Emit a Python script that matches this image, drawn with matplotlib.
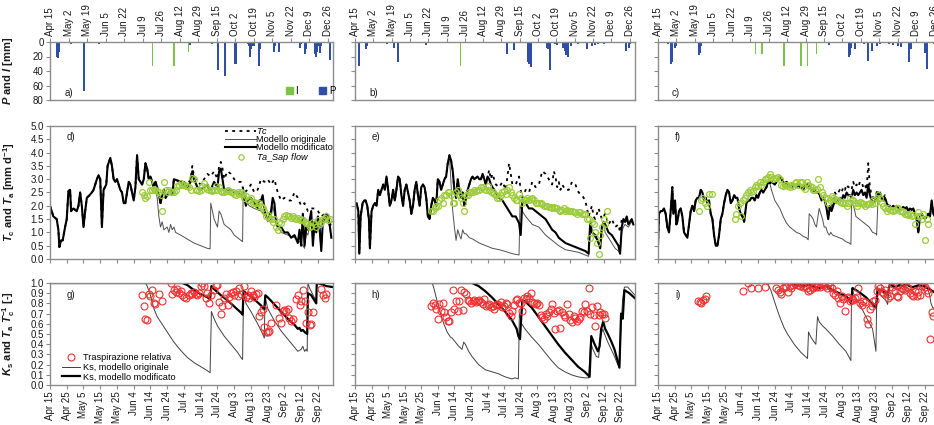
import numpy as np
import matplotlib
matplotlib.use('Agg')
import matplotlib.pyplot as plt
from matplotlib.lines import Line2D
from matplotlib.patches import Patch

plt.rcParams['font.family'] = ['Liberation Sans', 'DejaVu Sans']
plt.rcParams['mathtext.fontset'] = 'custom'
plt.rcParams['mathtext.rm'] = 'Liberation Sans'
plt.rcParams['mathtext.it'] = 'Liberation Sans:italic'
plt.rcParams['mathtext.bf'] = 'Liberation Sans:bold'
plt.rcParams['mathtext.bfit'] = 'Liberation Sans:bold:italic'

# ---------------- tick labels (day 0 = Apr 15) ----------------
top_tick_days = [0, 17, 34, 51, 68, 85, 102, 119, 136, 153, 170, 187, 204, 221, 238, 255]
top_tick_labels = ['Apr 15', 'May 2', 'May 19', 'Jun 5', 'Jun 22', 'Jul 9', 'Jul 26', 'Aug 12',
                   'Aug 29', 'Sep 15', 'Oct 2', 'Oct 19', 'Nov 5', 'Nov 22', 'Dec 9', 'Dec 26']
bot_tick_days = [0, 10, 20, 30, 40, 50, 60, 70, 80, 90, 100, 110, 120, 130, 140, 150, 160]
bot_tick_labels = ['Apr 15', 'Apr 25', 'May 5', 'May 15', 'May 25', 'Jun 4', 'Jun 14', 'Jun 24',
                   'Jul 4', 'Jul 14', 'Jul 24', 'Aug 3', 'Aug 13', 'Aug 23', 'Sep 2', 'Sep 12', 'Sep 22']

# ---------------- rainfall (P) and irrigation (I), mm ----------------
a_P_days = [6, 7, 8, 19, 31, 45, 129, 149, 154, 161, 163, 170, 171, 182, 183, 184, 185, 186, 187, 192, 193,
            206, 207, 210, 230, 231, 234, 235, 243, 244, 245, 246, 248, 249, 257]
a_P = [20, 22, 14, 3, 68, 3, 4, 3, 38, 47, 2, 30, 31, 3, 6, 20, 10, 6, 5, 33, 10,
       14, 5, 14, 8, 3, 17, 10, 17, 20, 14, 5, 15, 6, 25]
a_I_days = [94, 114, 127]
a_I = [33, 33, 14]

b_P_days = [4, 10, 11, 30, 36, 40, 66, 141, 148, 161, 162, 163, 178, 179, 181, 186, 188, 193, 195, 196, 198,
            201, 207, 209, 215, 220, 223, 226, 231, 244, 252, 254, 255]
b_P = [33, 9, 6, 3, 8, 27, 4, 17, 11, 28, 30, 34, 8, 10, 38, 3, 4, 8, 12, 18, 21,
       6, 3, 2, 10, 5, 4, 3, 3, 2, 12, 8, 3]
b_I_days = [98]
b_I = [33]

c_P_days = [9, 12, 13, 16, 17, 38, 39, 40, 158, 163, 176, 177, 178, 182, 190, 194, 197, 202, 205,
            213, 217, 221, 224, 231, 233, 246, 248, 254]
c_P = [3, 30, 28, 8, 5, 18, 15, 5, 4, 2, 21, 18, 8, 10, 3, 26, 12, 5, 3,
       3, 4, 5, 7, 27, 10, 15, 37, 3]
c_I_days = [90, 96, 116, 132, 138, 146]
c_I = [16, 16, 33, 33, 33, 16]

# ---------------- panel d: Tc / Ta (mm d-1) ----------------
d_common_x = [0, 2, 4, 5, 5.6, 6.6, 7.6, 9, 10, 11, 12, 12.6, 14, 16, 17, 18, 19, 20, 21, 22, 23.6, 25, 26, 28,
              29, 30, 31, 32, 33.6, 34.4, 36, 37, 38, 39, 40, 41, 42, 43, 44, 45, 46, 47, 48, 49, 50, 51, 52,
              53, 54, 55, 56, 57, 58, 59, 60, 62, 63, 64, 65, 66, 67, 68, 69, 70, 72, 73, 74, 76, 78]
d_common_y = [2.0, 1.6, 1.5, 1.1, 0.45, 0.7, 0.7, 1.2, 1.5, 2.55, 2.6, 1.8, 1.9, 1.8, 2.0, 2.5, 2.0, 1.2, 1.8, 2.3,
              2.4, 2.5, 2.6, 3.0, 3.15, 3.0, 1.2, 2.6, 2.8, 3.5, 3.8, 3.5, 3.0, 2.9, 3.0, 2.8, 2.6, 2.5, 2.1, 2.1,
              2.5, 2.9, 2.8, 2.5, 2.2, 2.7, 3.9, 3.0, 2.9, 2.8, 3.0, 3.6, 3.4, 3.0, 3.1, 2.7, 2.9, 2.7, 2.4, 2.1,
              2.4, 2.6, 2.3, 2.4, 2.6, 2.4, 3.0, 2.95, 2.9]
d_tc_tail_x = [80, 82, 84, 85, 86, 88, 90, 92, 94, 96, 98, 100, 101, 102, 103, 104, 106, 108, 110, 112, 114, 116,
               118, 120, 122, 124, 126, 128, 130, 132, 134, 136, 138, 140, 142, 144, 146, 148, 150, 152, 154, 156,
               158, 160, 162, 164, 166, 168]
d_tc_tail_y = [2.9, 2.8, 3.0, 3.5, 3.1, 2.9, 2.8, 3.0, 3.2, 3.1, 3.3, 3.0, 3.5, 3.65, 3.4, 3.0, 3.3, 3.2, 3.0, 2.9,
               2.9, 2.5, 2.6, 2.8, 2.5, 2.6, 3.0, 2.9, 3.0, 2.8, 3.0, 2.5, 2.2, 2.3, 2.2, 2.2, 2.5, 2.3, 2.0, 2.1,
               1.8, 1.9, 1.9, 1.8, 1.6, 1.7, 1.6, 1.2]
d_mod_tail_x = [80, 82, 84, 85, 86, 88, 90, 92, 94, 95, 96, 98, 100, 101, 102, 103, 104, 106, 108, 110, 112, 114,
                116, 117, 118, 120, 122, 124, 125, 126, 127, 128, 129, 130, 132, 133, 134, 135, 136, 138, 140, 142,
                144, 146, 148, 149, 150, 151, 152, 153, 154, 156, 157, 158, 159, 160, 161, 162, 163, 164, 165,
                166, 167, 168]
d_mod_tail_y = [2.8, 2.7, 2.9, 3.3, 3.0, 2.7, 2.6, 2.7, 2.8, 2.6, 2.6, 2.9, 2.7, 3.3, 3.4, 3.0, 2.6, 2.6, 2.6, 2.5,
                2.5, 2.4, 2.3, 2.0, 2.2, 2.3, 2.1, 1.9, 2.2, 2.2, 2.4, 1.9, 1.6, 1.5, 1.8, 2.3, 2.1, 1.4, 1.2, 1.2,
                1.0, 1.0, 0.8, 0.9, 0.6, 1.1, 0.5, 1.7, 0.5, 1.2, 1.1, 1.8, 0.5, 1.4, 1.0, 1.6, 1.2, 0.3, 1.5, 1.4,
                1.7, 1.6, 1.3, 0.8]
d_orig_split = 62
d_orig_tail_x = [63, 64, 65, 66, 67, 68, 70, 71, 72, 73, 74, 75, 78, 82, 86, 90, 94, 95.6, 96, 97, 98, 100, 101,
                 102, 104, 106, 108, 110, 112, 114, 115, 115.4, 117, 119, 122, 126, 128, 130, 132, 133, 135, 138,
                 142, 146, 150, 152, 153, 154, 156, 157, 158, 160, 162, 163, 165, 167, 168]
d_orig_tail_y = [2.6, 2.3, 1.6, 1.2, 1.4, 1.1, 1.2, 1.0, 1.3, 1.1, 1.2, 1.0, 0.9, 0.75, 0.6, 0.5, 0.4, 0.38, 2.1,
                 1.8, 1.5, 1.2, 1.8, 1.7, 1.3, 1.2, 1.1, 0.9, 0.8, 0.7, 0.65, 2.7, 2.2, 2.0, 1.9, 1.8, 1.7, 1.4,
                 1.5, 2.0, 1.4, 1.0, 0.9, 0.8, 0.6, 0.4, 1.0, 0.9, 1.6, 0.5, 1.3, 1.5, 0.3, 1.4, 1.6, 1.2, 0.8]
d_sap_start = 55
d_sap = [2.5, 2.4, 2.3, 2.35, 2.9, 2.6, 2.6, 2.65, 2.6, 2.55, 2.5, 2.4, 1.8, 2.9, 2.6, 2.5, 2.6, 2.5, 2.5, 2.5,
         2.6, 2.75, 2.8, 2.85, 2.8, 2.8, 2.75, 2.75, 2.7, 2.6, 3.05, 3.0, 2.6, 2.6, 2.55, 2.6, 2.75, 2.85, 2.7,
         2.65, 2.6, 2.6, 2.55, 2.6, 2.75, 2.6, 2.7, 2.55, 2.5, 2.5, 2.55, 2.6, 2.55, 2.5, 2.5, 2.45, 2.4, 2.5,
         2.45, 2.5, 2.45, 2.3, 2.35, 2.2, 2.2, 2.3, 2.1, 2.15, 2.1, 2.0, 2.1, 2.0, 1.9, 1.8, 1.6, 1.65, 1.55,
         1.5, 1.4, 1.5, 1.2, 1.1, 1.4, 1.35, 1.5, 1.6, 1.65, 1.6, 1.6, 1.55, 1.6, 1.55, 1.5, 1.55, 1.45, 1.5,
         1.45, 1.4, 1.35, 1.3, 1.2, 1.25, 1.4, 1.3, 1.2, 1.45, 1.3, 1.4, 1.5, 1.55, 1.6, 1.45, 1.5]

# ---------------- panel e ----------------
e_common_x = [0, 1, 2, 2.6, 3.4, 4.6, 5.6, 6.4, 7.4, 8.4, 9, 10, 11, 12, 13, 14, 15, 16, 17, 18, 19, 20, 21, 22,
              23, 24, 25, 26, 27, 28, 29, 30, 31, 32, 33, 34, 35, 36, 37, 38, 39, 40, 41, 42, 43, 44, 45, 46, 47,
              48, 49, 50, 51, 52, 53, 54, 55, 56, 57, 58, 59, 60, 61, 62, 63, 64, 65, 66, 67, 68, 69, 70, 71, 72,
              73, 74, 75, 76, 77, 78, 79]
e_common_y = [2.0, 2.1, 1.8, 0.2, 1.6, 2.1, 2.2, 2.2, 2.0, 1.5, 0.4, 1.8, 2.0, 2.1, 2.0, 2.6, 2.4, 2.6, 2.8, 2.6,
              3.1, 2.6, 2.0, 2.2, 2.6, 2.2, 2.6, 3.1, 3.0, 2.4, 2.0, 2.6, 2.8, 2.5, 2.2, 1.7, 2.0, 2.6, 2.9, 2.4,
              2.0, 2.7, 2.8, 2.7, 2.3, 1.6, 1.5, 2.0, 2.3, 2.2, 2.0, 3.0, 2.9, 2.6, 2.8, 3.0, 3.1, 3.6, 3.9, 3.7,
              3.3, 2.6, 2.3, 3.0, 2.6, 2.3, 2.5, 2.0, 2.3, 2.6, 2.8, 3.0, 3.1, 3.0, 3.05, 3.1, 3.0, 3.0, 3.2, 3.0,
              2.8]
e_tc_tail_x = [81, 82, 83, 85, 87, 89, 91, 93, 94, 95, 97, 99, 100, 101, 103, 105, 107, 109, 111, 113, 115, 117,
               119, 120, 121, 122, 123, 124, 125, 127, 129, 131, 133, 135, 137, 139, 141, 143, 144, 145, 147, 149,
               151, 153, 155, 157, 159, 160, 161, 163, 165, 168]
e_tc_tail_y = [3.35, 3.0, 3.2, 2.8, 2.7, 2.9, 2.6, 3.6, 3.2, 2.8, 2.8, 3.1, 2.6, 2.3, 2.6, 2.5, 2.9, 2.7, 2.8, 3.3,
               3.2, 3.0, 2.8, 3.3, 3.1, 2.7, 2.9, 2.6, 2.8, 2.6, 2.6, 2.9, 2.8, 2.5, 2.4, 2.2, 1.6, 2.0, 1.6, 1.5,
               1.9, 1.5, 1.7, 1.3, 1.5, 1.2, 1.3, 1.0, 1.5, 1.4, 1.5, 1.4]
e_mod_tail_x = [80, 81, 82, 83, 85, 87, 89, 91, 93, 95, 97, 99, 100, 101, 103, 105, 107, 109, 111, 113, 115, 117,
                119, 121, 123, 127, 131, 135, 139, 141, 142, 143, 145, 147, 148, 149, 150, 151, 153, 155, 157, 159,
                160, 161, 162, 163, 164, 165, 167, 168]
e_mod_tail_y = [3.1, 3.0, 2.8, 2.7, 2.5, 2.3, 2.2, 2.0, 1.8, 1.6, 1.6, 1.35, 0.9, 2.2, 2.1, 1.9, 1.9, 1.8, 1.7, 1.6,
                1.5, 1.3, 1.1, 1.0, 0.8, 0.6, 0.5, 0.4, 0.3, 0.2, 1.4, 1.0, 0.9, 0.6, 0.4, 1.2, 1.4, 1.3, 1.0, 0.9,
                0.7, 0.5, 0.2, 1.2, 1.5, 1.4, 1.6, 1.3, 1.5, 1.3]
e_orig_split = 57
e_orig_tail_x = [58, 59, 60, 61, 62, 63, 64, 65, 66, 67, 69, 71, 75, 79, 83, 87, 91, 95, 99, 99.6, 101, 103, 107,
                 111, 115, 119, 123, 127, 131, 135, 139, 141, 142, 143, 145, 147, 148, 149, 150, 151, 153, 155,
                 157, 159, 160, 161, 162, 163, 165, 167, 168]
e_orig_tail_y = [2.8, 1.8, 1.2, 0.7, 1.1, 0.9, 0.75, 1.1, 0.95, 0.95, 0.8, 0.75, 0.6, 0.5, 0.4, 0.35, 0.28, 0.2,
                 0.15, 2.0, 1.8, 1.6, 1.3, 1.2, 0.9, 0.7, 0.5, 0.35, 0.3, 0.25, 0.15, 0.1, 1.3, 1.0, 0.8, 0.7, 0.6,
                 1.2, 1.3, 1.0, 0.8, 0.6, 0.4, 0.3, 0.2, 1.0, 1.2, 1.3, 1.2, 1.4, 1.3]
e_sap_start = 46
e_sap = [1.8, 1.8, 1.9, 2.0, 2.0, 2.2, 2.3, 2.1, 2.4, 2.4, 2.5, 2.5, 2.4, 2.1, 2.1, 2.5, 2.6, 2.4, 2.3, 2.1,
         1.8, 2.4, 2.4, 2.5, 2.5, 2.5, 2.6, 2.55, 2.6, 2.6, 2.7, 2.7, 2.65, 2.6, 2.75, 2.6, 2.5, 2.5, 2.45,
         2.4, 2.3, 2.3, 2.4, 2.5, 2.55, 2.45, 2.6, 2.7, 2.5, 2.4, 2.3, 2.2, 2.2, 2.45, 2.3, 2.1, 2.2, 2.2,
         2.3, 2.2, 2.25, 2.3, 2.2, 2.1, 2.1, 2.1, 2.1, 2.05, 2.0, 2.0, 2.0, 1.95, 1.95, 1.9, 1.95, 1.9, 1.9,
         1.85, 1.8, 1.85, 1.9, 1.8, 1.85, 1.8, 1.8, 1.8, 1.75, 1.75, 1.7, 1.75, 1.75, 1.7, 1.7, 1.7, 1.5,
         1.5, 0.8, 1.4, 1.3, 1.0, 0.6, 0.2, 0.9, 1.2, 1.5, 1.3, 1.8]

# ---------------- panel f ----------------
f_early_x = [0, 0.6, 1.6, 2.6, 3.6, 4.6, 5.6, 6.6, 7.6, 8.6, 9.2, 10.2, 11, 11.6, 12.6, 13.6, 14.6, 15.6, 16.6,
             17.6, 18.6, 19.6, 20.6, 21.6, 22.6, 23.6, 24.6, 25.6, 26.6, 27.6, 28.6, 29.6, 30.6, 31.6, 32.6,
             33.6, 34.6, 35.6, 36.6, 37.6, 38.6, 39.6, 40.6, 41.6, 42.6, 43.6, 44.6, 45.6, 46.6, 47.6, 48.6,
             49.6, 50.6, 51.6]
f_early_y = [0.5, 1.7, 1.8, 1.8, 1.9, 1.7, 1.2, 1.0, 1.8, 2.7, 1.7, 2.2, 1.3, 1.4, 1.8, 1.9, 1.6, 1.0, 0.9, 0.8,
             1.3, 1.8, 2.0, 1.8, 2.2, 2.3, 2.3, 2.6, 2.5, 2.2, 2.3, 2.1, 2.2, 1.7, 1.5, 0.9, 0.5, 0.5, 0.9, 1.5,
             1.7, 2.1, 2.4, 2.6, 2.5, 2.1, 2.2, 2.4, 2.3, 2.3, 1.9, 1.7, 1.6, 1.4]
f_daily_start = 53
f_daily = [2.1, 2.2, 2.2, 2.3, 2.3, 2.2, 2.4, 2.3, 2.5, 2.6, 2.5, 2.6, 2.7, 2.9, 2.85, 2.9, 2.85, 2.8, 2.9, 3.0,
           3.1, 3.0, 2.9, 2.8, 2.9, 2.8, 2.7, 2.8, 2.7, 2.8, 2.7, 2.8, 2.7, 2.7, 2.6, 2.75, 2.8, 2.8, 2.7, 2.6,
           2.55, 2.6, 2.5, 2.5, 2.4, 2.2, 2.3, 2.2, 1.9, 1.5, 2.0, 1.8, 2.0, 2.2, 2.1, 2.2, 2.3, 2.2, 2.4, 2.3,
           2.5, 2.4, 2.4, 2.3, 2.6, 2.4, 2.5, 2.4, 2.5, 2.6, 2.4, 2.5, 2.3, 2.8, 2.4, 2.2, 2.1, 2.2, 2.3, 2.5,
           2.4, 2.3, 2.2, 2.3, 2.1, 2.0, 2.0, 1.9, 2.0, 1.9, 2.0, 1.9, 1.85, 1.9, 1.95, 1.9, 1.95, 1.8, 1.9,
           1.85, 1.9, 1.7, 1.5, 1.0, 1.6, 1.7, 1.6, 1.5, 1.6, 1.7, 1.6, 2.2, 1.7, 1.6, 1.6, 1.5]
f_tc_days = [101, 102, 103, 104, 105, 106, 107, 108, 109, 110, 111, 112, 113, 114, 115, 116, 117, 118, 119, 120,
             121, 122, 123, 124, 125, 126, 127, 128, 129, 130, 131, 132, 133, 134, 135, 136]
f_tc_vals = [2.0, 1.6, 2.1, 2.0, 2.2, 2.5, 2.4, 2.5, 2.6, 2.5, 2.7, 2.6, 2.8, 2.7, 2.7, 2.6, 2.9, 2.7, 2.8, 2.7,
             2.9, 2.9, 2.7, 2.8, 2.6, 3.6, 2.7, 2.4, 2.3, 2.3, 2.5, 2.6, 2.5, 2.4, 2.3, 2.4]
f_orig_split = 67
f_orig_tail_x = [68, 69, 70, 72, 73, 75, 77, 79, 81, 83, 85, 87, 89, 90, 90.6, 92, 93, 94, 95, 95.6, 96.6, 97.6,
                 98.6, 99.6, 100.6, 101.6, 102.6, 103.6, 104.6, 106.6, 108.6, 110.6, 112.6, 114.6, 115.6, 116,
                 117.6, 118.6, 120.6, 122.6, 124.6, 126.6, 128.6, 130.6, 131]
f_orig_tail_y = [2.6, 2.4, 2.2, 2.0, 1.9, 1.6, 1.35, 1.2, 1.1, 1.0, 0.95, 0.85, 0.8, 0.72, 1.7, 1.6, 1.5, 1.3, 1.2,
                 1.5, 1.9, 1.7, 1.5, 1.2, 1.2, 1.0, 0.9, 1.0, 0.9, 0.85, 0.8, 0.75, 0.65, 0.6, 0.55, 2.2, 1.9, 1.6,
                 1.5, 1.4, 1.3, 1.2, 1.0, 0.95, 0.9]
f_orig_rejoin = 132
f_sap_early_x = [24.6, 25.6, 26.6, 28, 29.6, 30.6, 32.2]
f_sap_early_y = [1.8, 2.2, 2.3, 2.1, 2.0, 2.45, 2.45]
f_sap_start = 46
f_sap = [1.5, 1.7, 2.0, 2.1, 1.6, 2.2, 2.3, 2.4, 2.5, 2.6, 2.5, 2.55, 2.7, 2.8, 2.75, 2.9, 2.8, 2.9, 3.0, 3.0,
         3.1, 3.2, 3.1, 3.0, 3.05, 3.05, 3.1, 3.0, 2.8, 2.75, 2.8, 2.8, 2.75, 2.7, 2.8, 2.75, 2.85, 2.9, 2.8,
         2.9, 2.9, 2.7, 2.65, 2.9, 2.8, 2.75, 2.7, 2.6, 2.6, 2.65, 3.0, 2.7, 2.5, 2.4, 2.3, 2.3, 2.1, 2.2,
         2.35, 2.3, 2.25, 2.2, 2.2, 2.15, 2.1, 2.15, 2.1, 2.0, 2.1, 2.3, 2.2, 2.2, 2.1, 2.0, 2.1, 2.15, 2.1,
         2.05, 2.0, 2.05, 2.05, 2.1, 2.05, 2.2, 2.1, 2.3, 2.4, 2.3, 2.1, 2.0, 1.9, 1.8, 1.9, 1.85, 1.85, 1.8,
         1.85, 1.9, 1.9, 1.8, 1.8, 1.75, 1.7, 1.7, 1.65, 1.7, 1.6, 1.65, 1.3, 1.6, 1.75, 1.6, 1.5, 1.7, 0.7,
         1.5, 1.3]

# ---------------- bottom panels: Ks and relative transpiration ----------------
g_ks_orig_x = [0, 57, 58, 60, 62, 64, 66, 68, 70, 74, 78, 82, 86, 90, 94, 95.6, 96.4, 98, 100, 104, 108, 112, 114,
               115, 115.6, 117, 120, 124, 127, 128, 128.4, 130, 134, 138, 142, 146, 148, 150, 151, 152, 153,
               153.6, 154, 155, 159, 159.3, 162, 165, 169]
g_ks_orig_y = [1.0, 1.0, 0.97, 0.88, 0.75, 0.67, 0.62, 0.57, 0.52, 0.42, 0.34, 0.27, 0.22, 0.18, 0.14, 0.12, 0.72,
               0.65, 0.58, 0.48, 0.40, 0.32, 0.27, 0.25, 0.90, 0.80, 0.72, 0.60, 0.50, 0.46, 0.87, 0.75, 0.63,
               0.53, 0.45, 0.37, 0.33, 0.35, 0.38, 0.33, 0.35, 0.33, 1.0, 0.95, 0.82, 1.0, 0.99, 0.97, 0.96]
g_ks_mod_x = [0, 79, 82, 86, 90, 94, 95.6, 96.4, 98, 102, 106, 110, 114, 115, 115.6, 118, 122, 126, 128, 128.6,
              130, 134, 138, 142, 146, 148, 149, 150, 151, 152, 153.6, 154, 156, 159, 159.3, 162, 165, 169]
g_ks_mod_y = [1.0, 1.0, 0.98, 0.93, 0.89, 0.86, 0.84, 0.97, 0.94, 0.88, 0.83, 0.77, 0.71, 0.69, 0.92, 0.89, 0.84,
              0.78, 0.74, 0.88, 0.86, 0.79, 0.72, 0.65, 0.59, 0.55, 0.56, 0.53, 0.54, 0.52, 0.50, 0.90, 0.88, 0.80,
              1.0, 0.99, 0.97, 0.96]
nan = float('nan')
g_rel_start = 55
g_rel = [0.88, 0.77, 0.65, 0.64, 0.89, 0.87, 0.93, 0.80, 0.79, nan, 0.89, nan, 0.82, nan, nan, nan, nan, 1.0,
         0.89, 0.93, 0.91, 0.94, 0.90, 0.92, 0.88, 0.86, 0.85, nan, 0.88, 0.90, 0.89, 0.91, 0.89, 0.88, 0.90,
         0.97, 1.0, 0.97, 0.85, 0.90, 0.80, 0.88, nan, 0.93, 0.98, 0.98, 0.81, 0.70, 0.77, 0.85, 0.89, 0.78,
         0.86, 0.90, 0.91, 0.88, 0.92, 0.87, 0.95, 0.89, nan, 0.97, 0.86, 0.88, 0.85, 0.92, 0.88, 0.86, 0.89,
         0.90, 0.68, 0.72, 0.75, 0.57, 0.52, 0.52, 0.53, 0.61, nan, nan, 0.78, nan, 0.66, 0.61, 0.73, 0.74,
         0.73, 0.75, 0.66, 0.63, 0.65, nan, 0.84, 0.88, 0.78, 0.82, 0.93, 0.82, 0.61, 0.72, 0.59, 0.60, 0.72,
         nan, nan, nan, nan, 0.94, 0.88, 0.85, 0.89]

h_ks_orig_x = [0, 46.6, 47.6, 49.6, 51.6, 53.6, 55.6, 57.6, 58.6, 59.6, 60.6, 62.6, 64.6, 65.6, 66.6, 68.6, 70.6,
               72.6, 74.6, 78.6, 82.6, 86.6, 90.6, 94.6, 96.6, 98.6, 99.2, 100.6, 102.6, 106.6, 110.6, 114.6,
               118.6, 122.6, 126.6, 130.6, 134.6, 138.6, 141, 142.2, 143.6, 145.6, 147, 148.6, 149.6, 150.6,
               152.6, 154.6, 156.6, 158.6, 159.6, 160.6, 161.6, 162.6, 164.6, 169]
h_ks_orig_y = [1.0, 1.0, 0.95, 0.82, 0.70, 0.60, 0.52, 0.47, 0.46, 0.44, 0.42, 0.38, 0.35, 0.42, 0.40, 0.33, 0.28,
               0.24, 0.20, 0.15, 0.13, 0.11, 0.08, 0.06, 0.07, 0.06, 0.70, 0.60, 0.55, 0.47, 0.40, 0.32, 0.24,
               0.17, 0.13, 0.10, 0.08, 0.07, 0.07, 0.42, 0.35, 0.28, 0.27, 0.50, 0.55, 0.50, 0.42, 0.35, 0.28,
               0.20, 0.18, 0.60, 0.85, 0.96, 0.96, 0.88]
h_ks_mod_x = [0, 70.6, 74.6, 78.6, 82.6, 86.6, 90.6, 94.6, 97.6, 98.6, 99.6, 100, 101, 102.6, 104.6, 106.6, 110.6,
              114.6, 118.6, 122.6, 126.6, 130.6, 134.6, 138.6, 141.6, 142.6, 144.6, 146.6, 147.6, 148.6, 149.8,
              151, 152.6, 154.6, 156.6, 159.6, 160.6, 161.6, 162.6, 163.6, 165.6, 169]
h_ks_mod_y = [1.0, 1.0, 0.97, 0.92, 0.86, 0.79, 0.72, 0.64, 0.55, 0.48, 0.45, 0.57, 0.83, 0.82, 0.79, 0.76, 0.67,
              0.58, 0.49, 0.40, 0.32, 0.25, 0.18, 0.13, 0.08, 0.48, 0.40, 0.33, 0.38, 0.55, 0.62, 0.55, 0.50, 0.43,
              0.35, 0.17, 0.70, 0.65, 0.93, 0.92, 0.90, 0.85]
h_rel_start = 46
h_rel = [0.77, 0.80, 0.78, 0.75, 0.65, 0.79, 0.73, 0.80, 0.72, 0.67, 0.63, 0.63, 0.72, 0.93, 0.75, 0.82, 0.73,
         0.82, 0.93, 0.74, 0.91, 0.89, 0.83, 0.82, 0.80, 0.82, 0.83, 0.81, 0.82, 0.83, 0.81, 0.79, 0.84, 0.77,
         0.78, 0.79, 0.76, 0.77, 0.75, 0.78, 0.79, 0.78, 0.81, 0.76, 0.77, 0.80, 0.79, 0.71, 0.68, 0.73, 0.78,
         0.83, 0.84, 0.80, 0.80, 0.73, 0.85, 0.84, 0.87, 0.85, 0.90, 0.81, 0.80, 0.79, 0.80, 0.78, 0.69, 0.67,
         0.65, 0.70, 0.68, 0.72, 0.75, 0.79, 0.71, 0.55, 0.73, 0.74, 0.56, 0.72, 0.69, 0.67, 0.79, 0.70, 0.64,
         0.62, 0.68, 0.66, 0.63, 0.65, 0.67, 0.73, 0.72, 0.79, 0.73, 0.95, 0.70, 0.76, 0.69, 0.58, 0.77, 0.69,
         0.72, 0.70, 0.70, 0.66]

i_ks_orig_x = [0, 65.6, 67.6, 69.6, 71.6, 73.6, 75.6, 77.6, 79.6, 81.6, 83.6, 85.6, 87.6, 89.6, 90.2, 91.6, 93.6,
               94.6, 95.6, 96.6, 98.6, 100.6, 104.6, 108.6, 112.6, 115.6, 116, 117.6, 120.6, 124.6, 128.6, 130.6,
               131.2, 132.6, 134.6, 136.6, 137.6, 138.6, 139.6, 140.6, 142.6, 144.6, 146.6, 148.6, 150.6, 152.6,
               154.6, 156.6, 158.6, 160.6, 162.6, 163.6, 164.6, 169]
i_ks_orig_y = [1.0, 1.0, 0.93, 0.83, 0.73, 0.64, 0.56, 0.50, 0.45, 0.40, 0.36, 0.32, 0.29, 0.26, 0.52, 0.47, 0.42,
               0.40, 0.67, 0.62, 0.58, 0.55, 0.48, 0.40, 0.33, 0.24, 0.95, 0.88, 0.80, 0.67, 0.55, 0.33, 0.97,
               0.90, 0.86, 0.83, 0.79, 0.97, 1.0, 0.97, 0.94, 0.93, 0.97, 0.96, 0.94, 0.93, 0.95, 0.97, 0.98, 0.97,
               0.90, 0.80, 0.76, 0.70]
i_ks_mod_x = [0, 78.6, 80.6, 84.6, 88.6, 90.6, 92.6, 96.6, 100.6, 104.6, 108.6, 112.6, 114.6, 115.6, 116.6, 118.6,
              120.6, 124.6, 128.6, 130.6, 131.6, 133.6, 135.6, 137.6, 139, 140.6, 142.6, 144.6, 146.6, 148.6,
              150.6, 152.6, 154.6, 156.6, 158.6, 160.6, 162.6, 164.6, 169]
i_ks_mod_y = [1.0, 1.0, 0.99, 0.98, 0.97, 0.99, 0.97, 0.95, 0.97, 0.93, 0.90, 0.87, 0.84, 0.80, 0.95, 0.93, 0.91,
              0.86, 0.79, 0.76, 0.92, 0.93, 0.91, 0.88, 0.99, 0.97, 0.96, 0.98, 0.97, 0.99, 0.97, 0.96, 0.97, 0.98,
              0.97, 0.96, 0.94, 0.92, 0.88]
i_rel_early_x = [24, 25, 26, 27, 28, 29, 51, 54, 56, 60, 64]
i_rel_early_y = [0.82, 0.81, 0.80, 0.83, 0.84, 0.87, 0.92, 1.0, 0.95, 0.95, 0.96]
i_rel_start = 71
i_rel = [0.95, 0.93, 0.91, 0.89, 0.95, 0.97, 0.96, 0.91, 0.97, 0.95, 0.98, 0.99, 1.0, 0.98, 0.97, 0.99, 0.96,
         0.97, 0.95, 0.92, 0.93, 0.96, 0.95, 0.97, 0.96, 0.97, 0.96, 1.0, 0.98, 0.97, 0.95, 0.99, 0.97, 0.95,
         0.90, 0.88, 0.92, 0.85, 0.80, 0.87, 0.84, 0.73, 0.85, 0.86, 0.82, 0.84, 0.83, 0.85, 0.86, 0.95, 0.80,
         0.78, 0.82, 0.81, 0.65, 0.60, 0.75, 0.77, 0.82, 0.83, 0.92, 0.97, 0.95, 0.91, 0.90, 0.93, 0.89, 0.85,
         0.87, 0.96, 0.99, 0.92, 0.87, 0.86, 0.92, 0.95, 0.94, 0.93, 0.96, 0.95, 0.90, 0.88, 0.87, 0.92, 0.87,
         0.91, 0.88, 0.97, 0.98, 0.96, 0.93, 0.90, 0.45, 0.72, 0.68]

# ---------------- styling ----------------
BLUE = '#2F4FA6'
GREEN = '#7CC444'
SAPGREEN = '#9CCB3C'
RED = '#F03030'
SPINE = '#8C8C8C'
TXT = '#1a1a1a'
FS = 7
LFS = 6.6

W, H = 934.0, 425.0
col_left = [50, 355, 658]
col_width = [283, 280, 282]
rows = {'top': (42, 100), 'mid': (126, 259), 'bot': (283, 385)}


def make_ax(fig, col, row):
    y0, y1 = rows[row]
    return fig.add_axes([col_left[col] / W, 1 - y1 / H, col_width[col] / W, (y1 - y0) / H])


def style(ax):
    for s in ax.spines.values():
        s.set_color(SPINE)
        s.set_linewidth(1.0)
    ax.tick_params(direction='out', length=3, width=0.8, color=SPINE, labelsize=FS, labelcolor=TXT, pad=1.5)


fig = plt.figure(figsize=(9.34, 4.25), dpi=100)

# ---------- top row ----------
tops = [(a_P_days, a_P, a_I_days, a_I, 'a)'), (b_P_days, b_P, b_I_days, b_I, 'b)'),
        (c_P_days, c_P, c_I_days, c_I, 'c)')]
for col, (pd_, pv, idd, iv, lab) in enumerate(tops):
    ax = make_ax(fig, col, 'top')
    style(ax)
    ax.bar(pd_, pv, width=1.8, color=BLUE, linewidth=0, align='center')
    ax.bar(idd, iv, width=1.3, color=GREEN, linewidth=0, align='center')
    ax.set_xlim(0, 260)
    ax.set_ylim(80, 0)
    ax.xaxis.tick_top()
    ax.set_xticks(top_tick_days)
    ax.set_xticklabels(top_tick_labels, rotation=90, va='bottom', ha='center')
    ax.set_yticks([0, 20, 40, 60, 80])
    if col == 0:
        ax.set_yticklabels(['0', '20', '40', '60', '80'])
        ax.set_ylabel(r'$\mathbfit{P}$ and $\mathbfit{I}$ [mm]', fontsize=8, fontweight='bold', color=TXT)
        ax.yaxis.set_label_coords(-0.122, 0.5)
        ax.legend(handles=[Patch(color=GREEN, label='I'), Patch(color=BLUE, label='P')],
                  ncol=2, loc='lower right', bbox_to_anchor=(1.04, -0.08), frameon=False,
                  fontsize=FS, handlelength=0.7, handleheight=0.7, handletextpad=0.3,
                  columnspacing=2.2)
    else:
        ax.set_yticklabels([])
    ax.text(0.05, 0.12, lab, transform=ax.transAxes, fontsize=FS, color=TXT, va='center')

# ---------- middle row ----------
def build_mid(common_x, common_y, tc_tail_x, tc_tail_y, mod_tail_x, mod_tail_y,
              orig_split, orig_tail_x, orig_tail_y):
    cx = np.array(common_x, float)
    cy = np.array(common_y, float)
    tc_x = np.concatenate([cx, tc_tail_x])
    tc_y = np.concatenate([cy, tc_tail_y])
    mod_x = np.concatenate([cx, mod_tail_x])
    mod_y = np.concatenate([cy, mod_tail_y])
    keep = cx <= orig_split
    or_x = np.concatenate([cx[keep], orig_tail_x])
    or_y = np.concatenate([cy[keep], orig_tail_y])
    return tc_x, tc_y, mod_x, mod_y, or_x, or_y


d_series = build_mid(d_common_x, d_common_y, d_tc_tail_x, d_tc_tail_y, d_mod_tail_x, d_mod_tail_y,
                     d_orig_split, d_orig_tail_x, d_orig_tail_y)
d_sap_x = np.arange(d_sap_start, d_sap_start + len(d_sap))
e_series = build_mid(e_common_x, e_common_y, e_tc_tail_x, e_tc_tail_y, e_mod_tail_x, e_mod_tail_y,
                     e_orig_split, e_orig_tail_x, e_orig_tail_y)
e_sap_x = np.arange(e_sap_start, e_sap_start + len(e_sap))

f_mod_x = np.concatenate([f_early_x, np.arange(f_daily_start, f_daily_start + len(f_daily))]).astype(float)
f_mod_y = np.concatenate([f_early_y, f_daily]).astype(float)
f_tc_y = f_mod_y.copy()
for dd, vv in zip(f_tc_days, f_tc_vals):
    f_tc_y[f_mod_x == dd] = vv
f_or_x = np.concatenate([f_mod_x[f_mod_x <= f_orig_split], f_orig_tail_x, f_mod_x[f_mod_x >= f_orig_rejoin]])
f_or_y = np.concatenate([f_mod_y[f_mod_x <= f_orig_split], f_orig_tail_y, f_mod_y[f_mod_x >= f_orig_rejoin]])
f_series = (f_mod_x, f_tc_y, f_mod_x, f_mod_y, f_or_x, f_or_y)
f_sap_x = np.concatenate([f_sap_early_x, np.arange(f_sap_start, f_sap_start + len(f_sap))])
f_sap_y = np.concatenate([f_sap_early_y, f_sap])

TC_DASH = (0, (1.6, 2.4))
mids = [(d_series, d_sap_x, d_sap, 'd)'), (e_series, e_sap_x, e_sap, 'e)'), (f_series, f_sap_x, f_sap_y, 'f)')]
for col, (ser, sx, sy, lab) in enumerate(mids):
    tc_x, tc_y, mod_x, mod_y, or_x, or_y = ser
    ax = make_ax(fig, col, 'mid')
    style(ax)
    l_or, = ax.plot(or_x, or_y, color='#505050', lw=0.7, label='Modello originale')
    l_tc, = ax.plot(tc_x, tc_y, color='black', lw=1.3, linestyle=TC_DASH, label='$\\mathit{Tc}$')
    l_mod, = ax.plot(mod_x, mod_y, color='black', lw=1.5, label='Modello modificato')
    ax.plot(sx, sy, linestyle='none', marker='o', ms=4.2, mfc='none', mec=SAPGREEN, mew=0.9)
    ax.set_xlim(0, 169)
    ax.set_ylim(0, 5.0)
    ax.set_xticks(bot_tick_days)
    ax.set_xticklabels([])
    ax.set_yticks(np.arange(0, 5.01, 0.5))
    if col == 0:
        ax.set_yticklabels(['%.1f' % v for v in np.arange(0, 5.01, 0.5)])
        ax.set_ylabel(r'$\mathbfit{T}_\mathbf{c}$ and $\mathbfit{T}_\mathbf{a}$ [mm d$^\mathbf{-1}$]',
                      fontsize=8, fontweight='bold', color=TXT)
        ax.yaxis.set_label_coords(-0.115, 0.5)
        ax.legend(handles=[l_tc, l_or, l_mod,
                           Line2D([], [], linestyle='none', marker='o', ms=3.8, mfc='none', mec=SAPGREEN,
                                  mew=0.9, label='$\\mathit{Ta\\_Sap\\ flow}$')],
                  loc='upper right', bbox_to_anchor=(1.02, 1.04), frameon=False, fontsize=LFS,
                  handlelength=3.4, handletextpad=0.0, labelspacing=-0.12, borderaxespad=0.2)
    else:
        ax.set_yticklabels([])
    ax.text(0.06, 0.92, lab, transform=ax.transAxes, fontsize=FS, color=TXT, va='center')

# ---------- bottom row ----------
g_rel_x = np.arange(g_rel_start, g_rel_start + len(g_rel))
h_rel_x = np.arange(h_rel_start, h_rel_start + len(h_rel))
i_rel_x = np.concatenate([i_rel_early_x, np.arange(i_rel_start, i_rel_start + len(i_rel))])
i_rel_y = np.concatenate([i_rel_early_y, i_rel])

bots = [(g_ks_orig_x, g_ks_orig_y, g_ks_mod_x, g_ks_mod_y, g_rel_x, g_rel, 'g)'),
        (h_ks_orig_x, h_ks_orig_y, h_ks_mod_x, h_ks_mod_y, h_rel_x, h_rel, 'h)'),
        (i_ks_orig_x, i_ks_orig_y, i_ks_mod_x, i_ks_mod_y, i_rel_x, i_rel_y, 'i)')]
for col, (ox, oy, mx, my, rx, ry, lab) in enumerate(bots):
    ax = make_ax(fig, col, 'bot')
    style(ax)
    l_o, = ax.plot(ox, oy, color='#404040', lw=0.7, label='Ks, modello originale')
    l_m, = ax.plot(mx, my, color='black', lw=1.6, label='Ks, modello modificato')
    ax.plot(rx, ry, linestyle='none', marker='o', ms=5.0, mfc='none', mec=RED, mew=0.8)
    ax.set_xlim(0, 169)
    ax.set_ylim(0, 1.0)
    ax.set_xticks(bot_tick_days)
    ax.set_xticklabels(bot_tick_labels, rotation=90, va='top', ha='center')
    ax.set_yticks(np.arange(0, 1.001, 0.1))
    if col == 0:
        ax.set_yticklabels(['%.1f' % v for v in np.arange(0, 1.001, 0.1)])
        ax.set_ylabel(r'$\mathbfit{K}_\mathbf{s}$ and $\mathbfit{T}_\mathbf{a}$ $\mathbfit{T}_\mathbf{c}^{\mathbf{-1}}$ [-]',
                      fontsize=8, fontweight='bold', color=TXT)
        ax.yaxis.set_label_coords(-0.115, 0.5)
        ax.legend(handles=[Line2D([], [], linestyle='none', marker='o', ms=5, mfc='none', mec=RED, mew=0.8,
                                  label='Traspirazione relativa'), l_o, l_m],
                  loc='lower left', bbox_to_anchor=(0.03, 0.0), frameon=False, fontsize=LFS,
                  handlelength=2.0, handletextpad=0.3, labelspacing=0.05, borderaxespad=0.0)
    else:
        ax.set_yticklabels([])
    ax.text(0.06, 0.88, lab, transform=ax.transAxes, fontsize=FS, color=TXT, va='center')

fig.savefig('out.png', dpi=100)
